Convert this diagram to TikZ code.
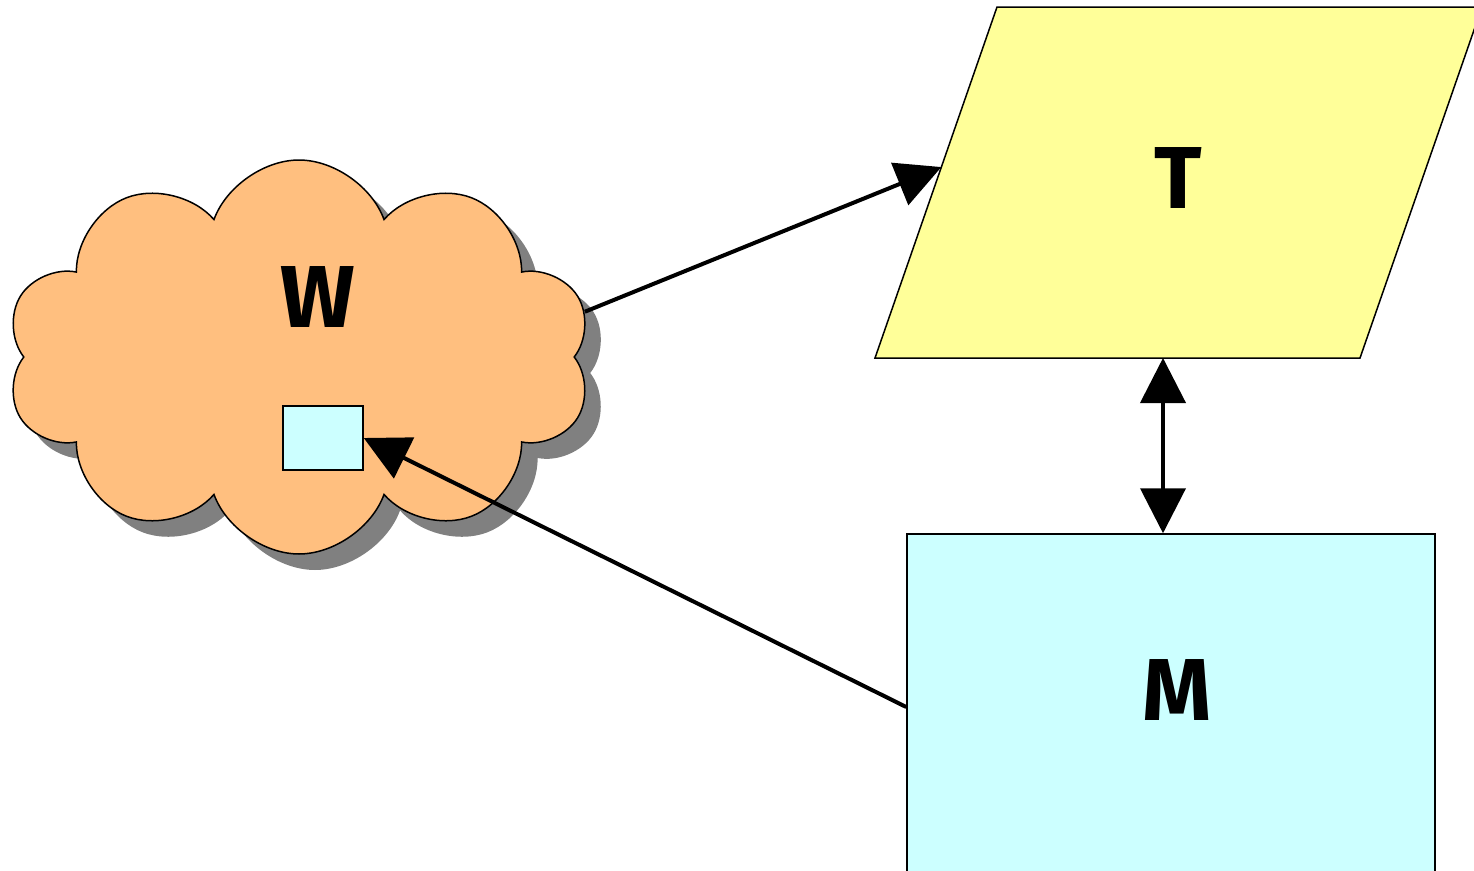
\documentclass[tikz,border=0pt]{standalone}
\usepackage{fontspec}
\newfontfamily\labelfont{Fira Sans}
\usepackage{tikz}
\usetikzlibrary{shapes.symbols,shadows,arrows.meta,calc}

\definecolor{cloudorange}{HTML}{FFBF7F}
\definecolor{paleyellow}{HTML}{FFFF99}
\definecolor{palecyan}{HTML}{CCFFFF}
\definecolor{shadowgray}{HTML}{808080}

\begin{document}
\begin{tikzpicture}[
    x=1pt, y=-1pt,
    lbl/.style={font=\labelfont\bfseries\fontsize{88}{88}\selectfont},
    world/.style={cloud, cloud puffs=10, cloud puff arc=140, cloud ignores aspect, draw,
      line width=1.5pt, fill=cloudorange, minimum width=586pt, minimum height=394pt,
      inner sep=0pt,
      drop shadow={shadow xshift=16pt, shadow yshift=-16pt, fill=shadowgray, opacity=1}},
    boxnode/.style={rectangle, draw, line width=1.5pt, fill=palecyan, inner sep=0pt},
    link/.style={line width=4pt, -{Triangle[length=45pt,width=45pt]}},
  ]
  \useasboundingbox (0,0) rectangle (1474,870);

  \node[world] (W) at (299,357) {};
  \node[lbl] (Wlbl) at (318,297) {W};
  \node[boxnode, minimum width=80pt, minimum height=64pt] (S) at (323,438) {};

  % parallelogram
  \coordinate (Ttl) at (997,7);
  \coordinate (Ttr) at (1482,7);
  \coordinate (Tbr) at (1360,358);
  \coordinate (Tbl) at (875,358);
  \filldraw[fill=paleyellow, line width=1.5pt] (Ttl) -- (Ttr) -- (Tbr) -- (Tbl) -- cycle;
  \node[lbl] (T) at (1178,178) {T};

  \node[boxnode, minimum width=528pt, minimum height=346pt] (M) at (1171,707) {};
  \node[lbl] (Mlbl) at (1177,690) {M};

  % connectors
  \coordinate (Tin) at ($(Ttl)!0.456!(Tbl)$);
  \coordinate (Mtop) at ($(M.north)+(-8,0)$);
  \draw[link] (W.9) -- (Tin);
  \draw[link] (M.west) -- (S.east);
  \draw[link, {Triangle[length=45pt,width=45pt]}-{Triangle[length=45pt,width=45pt]}]
    (Tbl -| Mtop) -- (Mtop);
\end{tikzpicture}
\end{document}
